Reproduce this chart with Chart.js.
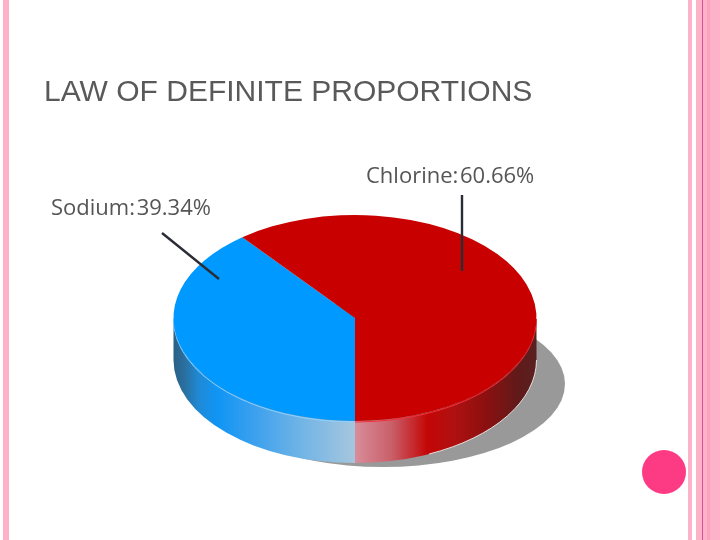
<!DOCTYPE html>
<html>
<head>
<meta charset="utf-8">
<title>Law of definite proportions</title>
<script src="https://cdn.jsdelivr.net/npm/chart.js@4"></script>
<style>
  html, body { margin: 0; padding: 0; background: #fff; }
  #slide { position: relative; width: 720px; height: 540px; overflow: hidden; }
  #myChart { position: absolute; left: 0; top: 0; }
  .band { position: absolute; top: 0; height: 540px; background: #fdb2c9; }
  #dot { position: absolute; left: 642px; top: 450px; width: 44px; height: 44px; border-radius: 50%; background: #fd3a84; }
  #title { position: absolute; left: 44px; top: 74px; font: 30px "Liberation Sans", Arial, sans-serif; color: #595959; white-space: nowrap; }
</style>
</head>
<body>
<div id="slide">
  <div class="band" style="left:3px;width:6px"></div>
  <div class="band" style="left:688px;width:4px"></div>
  <div class="band" style="left:696px;width:24px"></div>
  <div class="band" style="left:702px;width:1px;background:#d0558f"></div>
  <div class="band" style="left:707px;width:3px;background:#f9a3be"></div>
  <canvas id="myChart" width="720" height="540"></canvas>
  <div id="dot"></div>
  <div id="title"></div>
</div>
<script>
const slideTitle = 'LAW OF DEFINITE PROPORTIONS';
const categories = ['Sodium', 'Chlorine'];
const percents = [39.34, 60.66];
const sliceColors = ['#0099ff', '#c80000'];

const cx = 355;
const cy = 318;
const rx = 181.5;
const ry = 103;
const depth = 42;

document.getElementById('title').textContent = slideTitle;

const wallGradient = (ctx, i) => {
  const g = ctx.createLinearGradient(cx - rx, 0, cx + rx, 0);
  if (i === 0) {
    g.addColorStop(0, '#2a5f85');
    g.addColorStop(0.03, '#2a6f9f');
    g.addColorStop(0.07, '#1f8ad6');
    g.addColorStop(0.12, '#0f95f5');
    g.addColorStop(0.22, '#3ba0ee');
    g.addColorStop(0.35, '#70b4e6');
    g.addColorStop(0.5, '#a6c6de');
  } else {
    g.addColorStop(0.5, '#d88d9a');
    g.addColorStop(0.6, '#c9606a');
    g.addColorStop(0.7, '#c40606');
    g.addColorStop(0.77, '#b01010');
    g.addColorStop(0.86, '#8c1010');
    g.addColorStop(0.95, '#601a1a');
    g.addColorStop(1, '#5a2020');
  }
  return g;
};

// shadow and the side of the disc, taken from the angles of the chart's own arcs
const drawWall = (chart) => {
  const ctx = chart.ctx;
  ctx.save();
  ctx.fillStyle = '#999999';
  ctx.beginPath();
  ctx.ellipse(383, 384, 182, 83, 0, 0, Math.PI * 2);
  ctx.fill();

  chart.getDatasetMeta(0).data.forEach((arc, i) => {
    const full = Math.PI * 2;
    // only the front of the disc shows a side: 0 to PI, same again one turn on
    const ranges = [[0, Math.PI], [full, full + Math.PI]];
    ranges.forEach(([lo, hi]) => {
      const a0 = Math.max(arc.startAngle, lo);
      const a1 = Math.min(arc.endAngle, hi);
      if (a1 <= a0) return;
      ctx.beginPath();
      ctx.ellipse(cx, cy, rx, ry, 0, a0, a1);
      ctx.ellipse(cx, cy + depth, rx, ry, 0, a1, a0, true);
      ctx.closePath();
      ctx.fillStyle = wallGradient(ctx, i);
      ctx.fill();

      ctx.beginPath();
      ctx.ellipse(cx, cy + 1, rx, ry, 0, a0, a1);
      ctx.strokeStyle = i === 0 ? '#8ed2ff' : '#f2303c';
      ctx.lineWidth = 1;
      ctx.stroke();
    });
  });

  // pale edge between the side and the shadow
  ctx.beginPath();
  ctx.ellipse(cx, cy + depth, rx, ry, 0, 0, 1.15);
  ctx.strokeStyle = '#e6dcdc';
  ctx.lineWidth = 1;
  ctx.stroke();
  ctx.restore();
};

const drawCallouts = (chart) => {
  const ctx = chart.ctx;
  ctx.save();
  ctx.strokeStyle = '#2b2d36';
  ctx.lineWidth = 2.4;
  ctx.beginPath();
  ctx.moveTo(462, 195);
  ctx.lineTo(462, 271);
  ctx.moveTo(162, 233);
  ctx.lineTo(219, 279);
  ctx.stroke();

  ctx.fillStyle = '#555555';
  ctx.font = '22px "Open Sans"';
  ctx.wordSpacing = '-4px';
  ctx.textBaseline = 'alphabetic';
  ctx.fillText(categories[0] + ': ' + percents[0] + '%', 51, 215);
  ctx.fillText(categories[1] + ': ' + percents[1] + '%', 366, 183);
  ctx.restore();
};

// the chart is a plain pie, squashed to an ellipse while its datasets draw
const tiltPlugin = {
  id: 'tilt',
  beforeDatasetsDraw(chart) {
    drawWall(chart);
    const ctx = chart.ctx;
    ctx.save();
    ctx.translate(cx, cy);
    ctx.scale(1, ry / rx);
    ctx.translate(-cx, -cy);
  },
  afterDatasetsDraw(chart) {
    chart.ctx.restore();
    drawCallouts(chart);
  },
};

const ctx = document.getElementById('myChart').getContext('2d');
const chart = new Chart(ctx, {
  type: 'pie',
  data: {
    labels: categories,
    datasets: [{
      data: percents,
      backgroundColor: sliceColors,
      borderWidth: 0,
    }],
  },
  options: {
    responsive: false,
    animation: false,
    rotation: 180,
    layout: {
      padding: { left: cx - rx, right: 720 - cx - rx, top: cy - rx, bottom: 540 - cy - rx },
    },
    plugins: {
      legend: { display: false },
      tooltip: { enabled: false },
    },
  },
  plugins: [tiltPlugin],
});
</script>
</body>
</html>
